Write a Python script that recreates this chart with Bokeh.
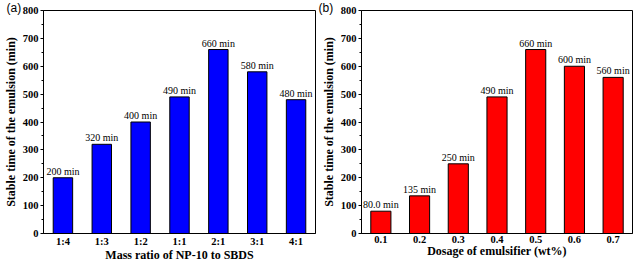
from bokeh.plotting import figure
from bokeh.layouts import row
from bokeh.models import ColumnDataSource, Title, FactorRange, Range1d, FixedTicker
from bokeh.embed import file_html
from bokeh.resources import INLINE

# Panel (a): stability vs. mass ratio of NP-10 to SBDS
ratios = ["1:4", "1:3", "1:2", "1:1", "2:1", "3:1", "4:1"]
ratio_times = [200, 320, 400, 490, 660, 580, 480]
ratio_labels = ["200 min", "320 min", "400 min", "490 min", "660 min", "580 min", "480 min"]

# Panel (b): stability vs. emulsifier dosage
dosages = ["0.1", "0.2", "0.3", "0.4", "0.5", "0.6", "0.7"]
dosage_times = [80, 135, 250, 490, 660, 600, 560]
dosage_labels = ["80.0 min", "135 min", "250 min", "490 min", "660 min", "600 min", "560 min"]

y_ticks = [0, 100, 200, 300, 400, 500, 600, 700, 800]
y_minor = [50, 150, 250, 350, 450, 550, 650, 750]

SERIF = "Liberation Serif"


def make_panel(cats, vals, labels, color, xtitle, tag, width, left, right, bar_w):
    src = ColumnDataSource(dict(cat=cats, val=vals, lab=labels))
    p = figure(x_range=FactorRange(*cats), y_range=Range1d(0, 800),
               width=width, height=265, output_backend="svg", toolbar_location=None,
               min_border_left=left, min_border_right=right,
               min_border_top=10, min_border_bottom=32)
    p.vbar(x="cat", top="val", width=bar_w, source=src,
           fill_color=color, line_color="black", line_width=1)
    p.text(x="cat", y="val", text="lab", source=src,
           text_align="center", text_baseline="bottom", y_offset=-1,
           text_font_size="10px", text_font={"value": SERIF}, text_color="black")

    p.grid.visible = False
    p.background_fill_color = "white"
    p.border_fill_color = "white"
    p.outline_line_color = "black"
    p.outline_line_width = 1

    p.yaxis.ticker = FixedTicker(ticks=y_ticks, minor_ticks=y_minor)
    for ax in (p.xaxis[0], p.yaxis[0]):
        ax.axis_line_color = "black"
        ax.axis_line_width = 1
        ax.major_tick_in = 0
        ax.minor_tick_in = 0
        ax.major_label_text_font = SERIF
        ax.major_label_text_font_style = "bold"
        ax.major_label_text_font_size = "10.5px"
        ax.major_label_text_color = "black"
        ax.axis_label_text_font = SERIF
        ax.axis_label_text_font_style = "bold"
        ax.axis_label_text_font_size = "12px"
        ax.axis_label_text_color = "black"
    p.yaxis.major_tick_out = 3
    p.yaxis.minor_tick_out = 2
    p.yaxis.major_label_standoff = 2
    p.yaxis.axis_label_standoff = 2
    p.yaxis.axis_label = "Stable time of the emulsion (min)"
    p.xaxis.major_tick_out = 0
    p.xaxis.minor_tick_out = 0
    p.xaxis.major_label_standoff = 2
    p.xaxis.axis_label_standoff = -2
    p.xaxis.axis_label = xtitle
    p.xaxis.major_label_orientation = "horizontal"

    # panel tag in the top-left corner
    p.add_layout(Title(text=tag, align="left", offset=-(left - 2), standoff=-8,
                       text_font="Liberation Sans", text_font_size="12px",
                       text_font_style="normal", text_color="black"), "above")
    return p


pa = make_panel(ratios, ratio_times, ratio_labels, "#0000ff",
                "Mass ratio of NP-10 to SBDS", "(a)", 316, 39, 1, 0.5)
pb = make_panel(dosages, dosage_times, dosage_labels, "#ff0000",
                "Dosage of emulsifier (wt%)", "(b)", 320, 45, 4, 0.52)

layout = row(pa, pb, spacing=0)
open("out.html", "w").write(file_html(layout, INLINE))
